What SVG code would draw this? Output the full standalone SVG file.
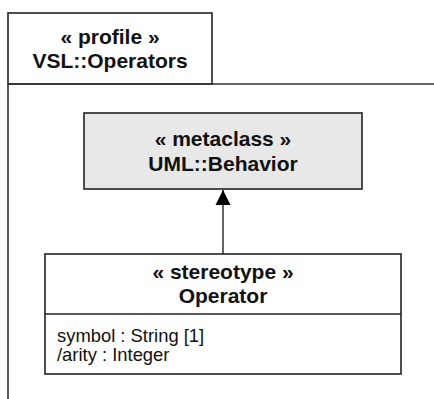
<svg xmlns="http://www.w3.org/2000/svg" width="434" height="399" viewBox="0 0 434 399">
<style>
.frame{fill:none;stroke:#333;stroke-width:1.6}
.box{fill:#fff;stroke:#222;stroke-width:1.6}
.meta{fill:#e8e8e8;stroke:#222;stroke-width:1.6}
.b{font-family:"Liberation Sans",Arial,sans-serif;font-weight:bold;font-size:21px;fill:#111;text-anchor:middle}
.r{font-family:"Liberation Sans",Arial,sans-serif;font-size:18.4px;fill:#111}
.conn{stroke:#111;stroke-width:1.3;fill:none}
</style>
<defs>
<marker id="tri" markerWidth="16" markerHeight="24" refX="15" refY="8" orient="auto" markerUnits="userSpaceOnUse" viewBox="0 0 16 16">
<path d="M0,0.5 L15,8 L0,15.5 Z" fill="#000"/>
</marker>
</defs>
<g id="profile">
<rect class="box" x="8" y="13" width="204" height="71"/>
<path class="frame" d="M8,84 L434,84 M8,84 L8,399"/>
<text class="b" x="110" y="44">« profile »</text>
<text class="b" x="110" y="68">VSL::Operators</text>
</g>
<g id="metaclass">
<rect class="meta" x="84" y="113" width="278" height="76"/>
<text class="b" x="223" y="146">« metaclass »</text>
<text class="b" x="223" y="171">UML::Behavior</text>
</g>
<g id="operator">
<rect class="box" x="45" y="254" width="356" height="120"/>
<line class="box" x1="45" y1="314" x2="401" y2="314"/>
<text class="b" x="223" y="279">« stereotype »</text>
<text class="b" x="223" y="303">Operator</text>
<text class="r" x="57" y="342">symbol : String [1]</text>
<text class="r" x="57" y="361">/arity : Integer</text>
</g>
<g id="connectors">
<line class="conn" x1="223" y1="254" x2="223" y2="190" marker-end="url(#tri)"/>
</g>
</svg>
